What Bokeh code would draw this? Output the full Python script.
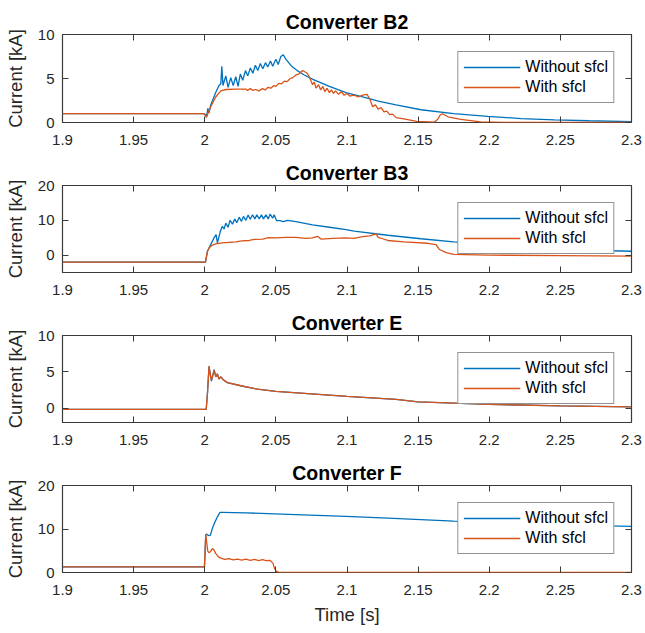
from bokeh.plotting import figure
from bokeh.layouts import column
from bokeh.models import (FixedTicker, LinearAxis, CustomJSTickFormatter, Range1d,
                          Legend, LegendItem, CustomLabelingPolicy)
from bokeh.embed import file_html
from bokeh.resources import INLINE

# ---------------- data ----------------
x_ticks = [1.9, 1.95, 2.0, 2.05, 2.1, 2.15, 2.2, 2.25, 2.3]
series_names = ["Without sfcl", "With sfcl"]
titles = ["Converter B2", "Converter B3", "Converter E", "Converter F"]

# Converter B2
b2_wo_t = [1.900, 1.999, 2.0005, 2.0012, 2.0022, 2.0030, 2.0042, 2.0077, 2.0100, 2.0113,
           2.0120, 2.0128, 2.0148, 2.0164, 2.0183, 2.0200, 2.0218, 2.0234, 2.0250, 2.0267,
           2.0286, 2.0302, 2.0321, 2.0338, 2.0356, 2.0373, 2.0391, 2.0408, 2.0427, 2.0443,
           2.0462, 2.0478, 2.0500, 2.0516, 2.0535, 2.0552, 2.0570, 2.0610, 2.0650, 2.0700,
           2.0760, 2.0876, 2.0993, 2.1110, 2.1228, 2.1345, 2.1520, 2.1750, 2.1990, 2.2225,
           2.2460, 2.2700, 2.3000]
b2_wo_i = [1.0, 1.0, 0.9, 0.6, 1.6, 1.1, 2.0, 3.4, 4.2, 4.4,
           6.4, 4.2, 5.3, 4.0, 5.1, 4.2, 5.2, 4.1, 5.5, 4.8,
           5.9, 5.3, 6.2, 5.6, 6.5, 5.9, 6.7, 6.1, 6.8, 6.3,
           7.0, 6.4, 7.2, 6.6, 7.5, 7.7, 7.2, 6.4, 5.9, 5.4,
           4.9, 4.1, 3.4, 2.9, 2.4, 2.0, 1.45, 1.0, 0.7, 0.45,
           0.3, 0.2, 0.1]
b2_w_t = [1.900, 1.9995, 2.0012, 2.0030, 2.0042, 2.0077, 2.0113, 2.0148, 2.0218, 2.0289,
          2.0300, 2.0320, 2.0340, 2.0359, 2.0380, 2.0406, 2.0425, 2.0445, 2.0465, 2.0485,
          2.0500, 2.0520, 2.0540, 2.0560, 2.0580, 2.0600, 2.0620, 2.0641, 2.0660, 2.0688,
          2.0700, 2.0720, 2.0735, 2.0750, 2.0758, 2.0770, 2.0782, 2.0800, 2.0815, 2.0830,
          2.0845, 2.0860, 2.0876, 2.0890, 2.0905, 2.0920, 2.0940, 2.0960, 2.0980, 2.1000,
          2.1020, 2.1050, 2.1080, 2.1110, 2.1140, 2.1160, 2.1180, 2.1200, 2.1220, 2.1240,
          2.1260, 2.1280, 2.1300, 2.1320, 2.1345, 2.1400, 2.1490, 2.1615, 2.1640, 2.1655,
          2.1672, 2.1710, 2.1800, 2.1940, 2.2100, 2.3000]
b2_w_i = [1.0, 1.0, 0.6, 1.3, 1.8, 2.9, 3.6, 3.75, 3.8, 3.8,
          3.65, 3.85, 3.65, 3.75, 3.6, 3.85, 3.7, 4.0, 3.9, 4.2,
          4.1, 4.45, 4.4, 4.7, 4.65, 5.0, 5.1, 5.4, 5.5, 5.9,
          5.8, 5.6, 5.2, 4.6, 4.3, 4.6, 3.9, 4.3, 3.7, 4.1,
          3.5, 3.9, 3.4, 3.7, 3.3, 3.6, 3.2, 3.5, 3.1, 3.3,
          3.0, 3.1, 2.9, 3.1, 3.2, 2.7, 1.8, 2.0, 1.5, 1.7,
          1.2, 1.3, 0.9, 0.95, 0.55, 0.4, 0.12, 0.05, 0.4, 0.85,
          1.0, 0.65, 0.35, 0.08, 0.02, 0.0]

# Converter B3
b3_wo_t = [1.900, 2.0005, 2.0019, 2.0042, 2.0066, 2.0080, 2.0089, 2.0110, 2.0124, 2.0136,
           2.0148, 2.0164, 2.0178, 2.0195, 2.0211, 2.0225, 2.0242, 2.0258, 2.0272, 2.0289,
           2.0305, 2.0320, 2.0336, 2.0352, 2.0366, 2.0383, 2.0399, 2.0413, 2.0430, 2.0446,
           2.0460, 2.0477, 2.0488, 2.0505, 2.0530, 2.0552, 2.0582, 2.0641, 2.0758, 2.0876,
           2.0993, 2.1050, 2.1287, 2.1520, 2.1750, 2.1990, 2.2225, 2.2460, 2.2700, 2.3000]
b3_wo_i = [-2.0, -2.0, 1.1, 3.0, 5.0, 5.9, 3.5, 6.9, 8.3, 7.5,
           9.2, 8.0, 10.0, 8.9, 10.4, 9.3, 10.9, 9.7, 11.1, 10.0,
           11.5, 10.3, 11.6, 10.4, 11.6, 10.4, 11.6, 10.4, 11.6, 10.4,
           11.8, 10.6, 11.6, 9.9, 9.9, 9.6, 10.0, 9.6, 8.7, 8.0,
           7.3, 6.9, 5.7, 4.7, 3.8, 3.0, 2.1, 1.7, 1.4, 1.1]
b3_w_t = [1.900, 2.0005, 2.0019, 2.0031, 2.0054, 2.0077, 2.0124, 2.0218, 2.0260, 2.0312,
          2.0350, 2.0406, 2.0450, 2.0500, 2.0570, 2.0641, 2.0711, 2.0758, 2.0793, 2.0817,
          2.0900, 2.0993, 2.1050, 2.1110, 2.1160, 2.1204, 2.1220, 2.1250, 2.1287, 2.1400,
          2.1567, 2.1626, 2.1650, 2.1697, 2.1750, 2.1990, 2.2500, 2.3000]
b3_w_i = [-2.0, -2.0, 1.1, 2.1, 2.9, 3.2, 3.5, 3.8, 4.1, 4.2,
          4.5, 4.6, 5.0, 4.95, 5.1, 5.1, 4.8, 4.95, 5.4, 4.6,
          4.8, 4.95, 4.8, 5.3, 5.5, 6.1, 5.1, 4.7, 4.2, 3.8,
          3.4, 3.0, 1.6, 0.7, 0.2, 0.0, -0.15, -0.3]

# Converter E
e_wo_t = [1.900, 2.0010, 2.0019, 2.0030, 2.0040, 2.0047, 2.0066, 2.0078, 2.0089, 2.0100,
          2.0113, 2.0130, 2.0159, 2.0253, 2.0370, 2.0500, 2.0750, 2.1000, 2.1345, 2.1500,
          2.2000, 2.2500, 2.3000]
e_wo_i = [-0.2, -0.2, 2.0, 5.7, 4.5, 3.7, 5.3, 4.3, 4.7, 4.0,
          4.3, 3.9, 3.5, 3.07, 2.6, 2.3, 1.95, 1.6, 1.2, 0.85,
          0.5, 0.3, 0.15]
e_w_t = [1.900, 2.0010, 2.0019, 2.0030, 2.0040, 2.0047, 2.0066, 2.0078, 2.0089, 2.0100,
         2.0113, 2.0130, 2.0159, 2.0253, 2.0370, 2.0500, 2.0750, 2.1000, 2.1345, 2.1500,
         2.2000, 2.2500, 2.3000]
e_w_i = [-0.2, -0.2, 2.0, 5.8, 4.5, 3.8, 5.2, 4.3, 4.7, 4.0,
         4.3, 3.9, 3.5, 3.07, 2.6, 2.3, 1.95, 1.6, 1.2, 0.85,
         0.5, 0.3, 0.15]

# Converter F
f_wo_t = [1.900, 1.9998, 2.0007, 2.0014, 2.0026, 2.0040, 2.0054, 2.0073, 2.0089, 2.0106,
          2.0125, 2.0289, 2.0641, 2.0993, 2.1287, 2.1750, 2.2225, 2.2600, 2.3000]
f_wo_i = [1.3, 1.3, 8.7, 8.8, 8.5, 8.6, 10.2, 11.7, 12.8, 13.8,
          13.8, 13.7, 13.3, 12.9, 12.5, 11.8, 11.2, 10.9, 10.6]
f_w_t = [1.900, 1.9998, 2.0007, 2.0014, 2.0021, 2.0031, 2.0042, 2.0054, 2.0066, 2.0077,
         2.0096, 2.0113, 2.0140, 2.0171, 2.0200, 2.0230, 2.0260, 2.0289, 2.0320, 2.0350,
         2.0380, 2.0406, 2.0430, 2.0460, 2.0480, 2.0490, 2.0502, 2.0520, 2.3000]
f_w_i = [1.3, 1.3, 8.8, 6.8, 4.9, 4.5, 4.9, 5.5, 5.1, 4.4,
         3.6, 3.3, 3.0, 3.2, 2.9, 3.1, 2.85, 3.05, 2.8, 3.0,
         2.75, 2.95, 2.75, 2.8, 2.1, 1.0, 0.3, 0.05, 0.05]

y_ranges = [(0, 10), (-5, 20), (-2, 10), (0, 20)]
y_tick_sets = [[0, 5, 10], [0, 10, 20], [0, 5, 10], [0, 10, 20]]

# ---------------- styling ----------------
BLUE = "#0072BD"
ORANGE = "#D95319"
AX = "#3a3a3a"
TXT = "#262626"
FONT = "Liberation Sans"

xfmt = CustomJSTickFormatter(code="return tick.toString();")
nolabels = CustomLabelingPolicy(code="""
try { for (const i of Array.from(indices.ones())) { indices.unset(i) } } catch (e) {}
return indices
""")


def mirror_axis(ticks):
    return LinearAxis(ticker=FixedTicker(ticks=ticks), major_tick_in=6, major_tick_out=0,
                      minor_tick_line_color=None, axis_line_color=None,
                      major_tick_line_color=AX, major_label_text_font_size="0px",
                      major_label_standoff=0, major_label_policy=nolabels)


def make_panel(title, wo_t, wo_i, w_t, w_i, yr, yt, height, top, bottom, xlabel=None):
    p = figure(width=644, height=height, x_range=Range1d(1.9, 2.3),
               y_range=Range1d(*yr), output_backend="svg", toolbar_location=None,
               min_border_left=62, min_border_right=13, min_border_top=top,
               min_border_bottom=bottom)
    p.grid.visible = False
    p.outline_line_color = AX
    p.outline_line_width = 1.2
    p.background_fill_color = "white"
    p.border_fill_color = "white"

    p.title.text = title
    p.title.align = "center"
    p.title.text_font = FONT
    p.title.text_font_size = "19.5px"
    p.title.text_font_style = "bold"
    p.title.text_color = "black"
    p.title.standoff = 3
    p.title.offset = 0

    xa = p.xaxis[0]
    xa.ticker = FixedTicker(ticks=x_ticks)
    xa.formatter = xfmt
    ya = p.yaxis[0]
    ya.ticker = FixedTicker(ticks=yt)
    ya.axis_label = "Current [kA]"
    ya.axis_label_text_font = FONT
    ya.axis_label_text_font_size = "18.5px"
    ya.axis_label_text_font_style = "normal"
    ya.axis_label_text_color = TXT
    ya.axis_label_standoff = 9
    ya.major_label_standoff = 8
    xa.major_label_standoff = 12
    if xlabel:
        xa.axis_label = xlabel
        xa.axis_label_text_font = FONT
        xa.axis_label_text_font_size = "18.5px"
        xa.axis_label_text_font_style = "normal"
        xa.axis_label_text_color = TXT
        xa.axis_label_standoff = 6

    for ax in (xa, ya):
        ax.major_tick_in = 6
        ax.major_tick_out = 0
        ax.minor_tick_line_color = None
        ax.axis_line_color = None
        ax.major_tick_line_color = AX
        ax.major_label_text_font = FONT
        ax.major_label_text_font_size = "15px"
        ax.major_label_text_color = TXT

    p.add_layout(mirror_axis(x_ticks), "above")
    p.add_layout(mirror_axis(yt), "right")

    r1 = p.line(wo_t, wo_i, line_color=BLUE, line_width=1.3)
    r2 = p.line(w_t, w_i, line_color=ORANGE, line_width=1.3)

    leg = Legend(items=[LegendItem(label=series_names[0], renderers=[r1]),
                        LegendItem(label=series_names[1], renderers=[r2])],
                 location="top_right", margin=17, padding=5, spacing=0,
                 glyph_height=20, label_height=20, glyph_width=57, label_standoff=5,
                 border_line_color=TXT, border_line_width=1.2,
                 label_text_font=FONT, label_text_font_size="16px",
                 label_text_color="black", background_fill_alpha=1.0)
    p.add_layout(leg)
    return p


p1 = make_panel(titles[0], b2_wo_t, b2_wo_i, b2_w_t, b2_w_i, y_ranges[0], y_tick_sets[0], 158, 34, 36)
p2 = make_panel(titles[1], b3_wo_t, b3_wo_i, b3_w_t, b3_w_i, y_ranges[1], y_tick_sets[1], 150, 26, 36)
p3 = make_panel(titles[2], e_wo_t, e_wo_i, e_w_t, e_w_i, y_ranges[2], y_tick_sets[2], 150, 26, 36)
p4 = make_panel(titles[3], f_wo_t, f_wo_i, f_w_t, f_w_i, y_ranges[3], y_tick_sets[3], 174, 26, 60,
                xlabel="Time [s]")

layout = column(p1, p2, p3, p4, spacing=0)
open("out.html", "w").write(file_html(layout, INLINE))
